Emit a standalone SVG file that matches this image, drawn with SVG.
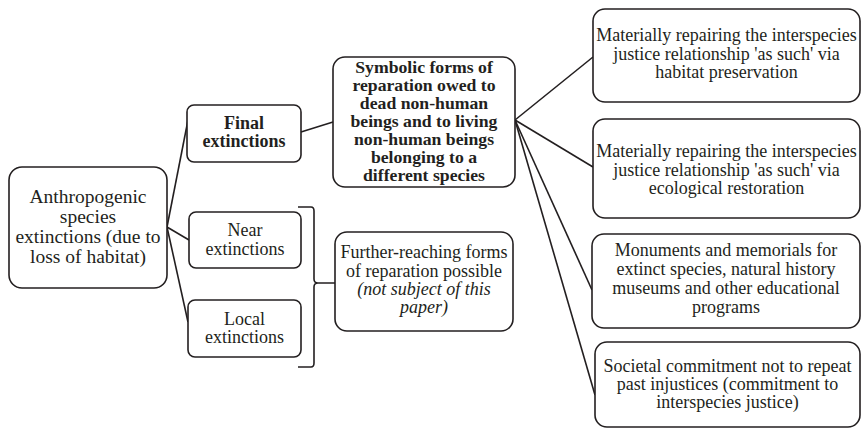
<svg xmlns="http://www.w3.org/2000/svg" width="863" height="429" viewBox="0 0 863 429">
<style>
.box{fill:#fff;stroke:#231f20;stroke-width:1.6}
.t{font-family:'Liberation Serif','Times New Roman',serif;font-size:18px;fill:#231f20;text-anchor:middle}
.b{font-weight:bold}
.s{font-size:17.7px}
.l{font-size:19.5px}
.i{font-style:italic}
.c{fill:none;stroke:#231f20;stroke-width:1.6}
</style>
<rect width="863" height="429" fill="#fff"/>
<g id="connectors">
<line class="c" x1="167" y1="227" x2="188" y2="120"/>
<line class="c" x1="167" y1="227" x2="189" y2="240"/>
<line class="c" x1="167" y1="227" x2="188" y2="322"/>
<line class="c" x1="301" y1="132" x2="333" y2="122"/>
<line class="c" x1="515" y1="120" x2="593" y2="57"/>
<line class="c" x1="515" y1="120" x2="593" y2="167"/>
<line class="c" x1="515" y1="120" x2="592" y2="290"/>
<line class="c" x1="515" y1="120" x2="595" y2="395"/>
<path class="c" d="M298,207 H311 Q314,207 314,211 V279 Q314,283 318,283 H335 M318,283 Q314,283 314,287 V363 Q314,367 311,367 H298"/>
</g>
<g id="n-anthropogenic">
<rect class="box" x="9" y="167" width="158" height="121" rx="13"/>
<text class="t l" x="88" y="203">Anthropogenic</text>
<text class="t l" x="88" y="223">species</text>
<text class="t l" x="88" y="243">extinctions (due to</text>
<text class="t l" x="88" y="263">loss of habitat)</text>
</g>
<g id="n-final">
<rect class="box" x="187" y="105" width="114" height="57" rx="7"/>
<text class="t b" x="244" y="129">Final</text>
<text class="t b" x="244" y="147">extinctions</text>
</g>
<g id="n-near">
<rect class="box" x="189" y="212" width="112" height="56" rx="7"/>
<text class="t" x="245" y="236">Near</text>
<text class="t" x="245" y="255">extinctions</text>
</g>
<g id="n-local">
<rect class="box" x="188" y="300" width="113" height="57" rx="7"/>
<text class="t" x="244.5" y="325">Local</text>
<text class="t" x="244.5" y="343">extinctions</text>
</g>
<g id="n-symbolic">
<rect class="box" x="333" y="57" width="182" height="130" rx="12"/>
<text class="t b s" x="424" y="73">Symbolic forms of</text>
<text class="t b s" x="424" y="91">reparation owed to</text>
<text class="t b s" x="424" y="109">dead non-human</text>
<text class="t b s" x="424" y="127">beings and to living</text>
<text class="t b s" x="424" y="145">non-human beings</text>
<text class="t b s" x="424" y="163">belonging to a</text>
<text class="t b s" x="424" y="181">different species</text>
</g>
<g id="n-further">
<rect class="box" x="335" y="232" width="178" height="99" rx="12"/>
<text class="t" x="424" y="258">Further-reaching forms</text>
<text class="t" x="424" y="277">of reparation possible</text>
<text class="t i" x="424" y="295">(not subject of this</text>
<text class="t i" x="424" y="313">paper)</text>
</g>
<g id="n-habitat">
<rect class="box" x="593" y="9" width="267" height="93" rx="12"/>
<text class="t" x="726.5" y="41">Materially repairing the interspecies</text>
<text class="t" x="726.5" y="60">justice relationship 'as such' via</text>
<text class="t" x="726.5" y="78">habitat preservation</text>
</g>
<g id="n-ecological">
<rect class="box" x="593" y="119" width="267" height="99" rx="12"/>
<text class="t" x="726.5" y="157">Materially repairing the interspecies</text>
<text class="t" x="726.5" y="176">justice relationship 'as such' via</text>
<text class="t" x="726.5" y="194">ecological restoration</text>
</g>
<g id="n-monuments">
<rect class="box" x="592" y="234" width="268" height="94" rx="12"/>
<text class="t" x="726" y="256">Monuments and memorials for</text>
<text class="t" x="726" y="275">extinct species, natural history</text>
<text class="t" x="726" y="294">museums and other educational</text>
<text class="t" x="726" y="313">programs</text>
</g>
<g id="n-commitment">
<rect class="box" x="595" y="342" width="265" height="85" rx="12"/>
<text class="t" x="727.5" y="372">Societal commitment not to repeat</text>
<text class="t" x="727.5" y="390">past injustices (commitment to</text>
<text class="t" x="727.5" y="408">interspecies justice)</text>
</g>
</svg>
